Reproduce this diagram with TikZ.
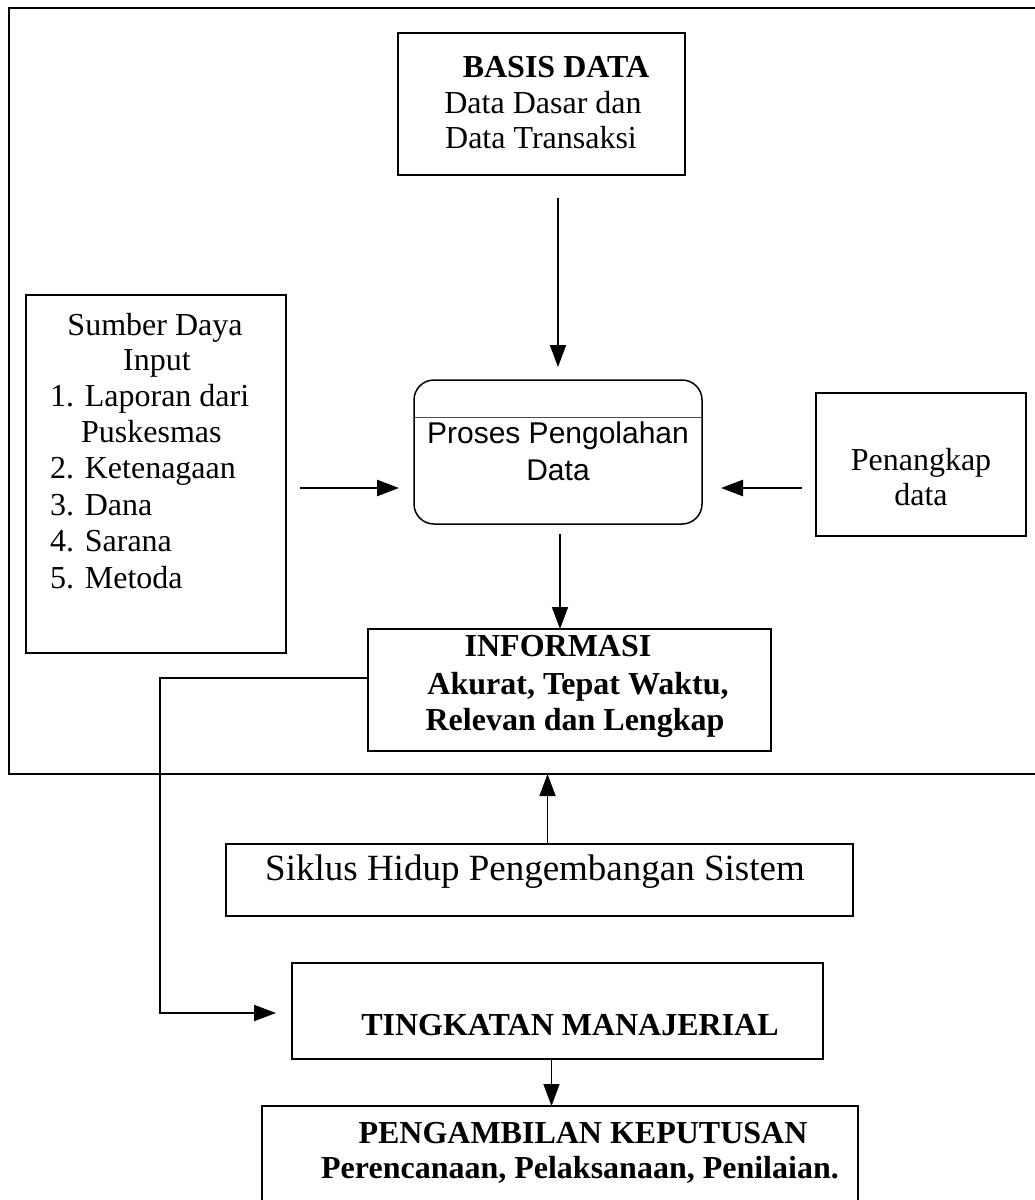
\documentclass[tikz,border=0pt]{standalone}
\usepackage{fontspec}
\setmainfont{Liberation Serif}
\newfontfamily\procfont{Liberation Sans}
\usetikzlibrary{arrows.meta}
\begin{document}
\begin{tikzpicture}[x=1pt,y=-1pt,
  box/.style={draw, line width=2pt, inner sep=0pt, outer sep=0pt},
  txt/.style={inner sep=0pt, anchor=base, font=\fontsize{32}{38}\selectfont},
  txtl/.style={txt, anchor=base west},
  bfx/.style={txt, font=\fontsize{32}{38}\selectfont\bfseries},
  proc/.style={txt, font=\fontsize{30}{36}\selectfont\procfont},
  arr/.style={line width=1.6pt, -{Triangle[length=22pt,width=16pt]}},
  thickarr/.style={arr, line width=2.6pt},
]
\useasboundingbox (0,0) rectangle (1035,1200);
\fill[white] (0,0) rectangle (1035,1200);

% outer frame of the information system
\node[box, minimum width=1036pt, minimum height=766pt] (frame) at (527,391) {};

% boxes
\node[box, minimum width=287pt, minimum height=142pt] (basis) at (541.5,104) {};
\node[box, minimum width=260pt, minimum height=358pt] (sumber) at (156,474) {};
\node[draw, line width=1.5pt, rounded corners=20pt, inner sep=0pt, outer sep=0pt,
      minimum width=288pt, minimum height=144pt] (proses) at (558,452) {};
\draw[line width=0.9pt, black!70] ([yshift=35pt]proses.west) -- ([yshift=35pt]proses.east);
\node[box, minimum width=210pt, minimum height=143pt] (penangkap) at (921,464.5) {};
\node[box, minimum width=403pt, minimum height=122pt] (informasi) at (569.5,690) {};
\node[box, minimum width=627pt, minimum height=72pt] (siklus) at (539.5,880) {};
\node[box, minimum width=531pt, minimum height=96pt] (tingkatan) at (557.5,1011) {};
\node[box, minimum width=596pt, minimum height=120pt] (pengambilan) at (560,1166) {};

% texts
\node[bfx] (basis-t1) at (556,77) {BASIS DATA};
\node[txt] (basis-t2) at (543,113) {Data Dasar dan};
\node[txt] (basis-t3) at (541,148) {Data Transaksi};

\node[txt] (sumber-t1) at (155,335) {Sumber Daya};
\node[txt] (sumber-t2) at (157,370) {Input};
\node[txtl] (sumber-t3) at (50,406) {1. Laporan dari};
\node[txtl] (sumber-t4) at (81,442) {Puskesmas};
\node[txtl] (sumber-t5) at (50,478) {2. Ketenagaan};
\node[txtl] (sumber-t6) at (50,515) {3. Dana};
\node[txtl] (sumber-t7) at (50,551) {4. Sarana};
\node[txtl] (sumber-t8) at (50,588) {5. Metoda};

\node[proc] (proses-t1) at (558,443) {Proses Pengolahan};
\node[proc] (proses-t2) at (558,480) {Data};

\node[txt] (penangkap-t1) at (921,470) {Penangkap};
\node[txt] (penangkap-t2) at (921,505) {data};

\node[bfx] (informasi-t1) at (558,656) {INFORMASI};
\node[bfx] (informasi-t2) at (578,694) {Akurat, Tepat Waktu,};
\node[bfx] (informasi-t3) at (575,730) {Relevan dan Lengkap};

\node[txt, font=\fontsize{37}{42}\selectfont] (siklus-t) at (535,880) {Siklus Hidup Pengembangan Sistem};

\node[bfx] (tingkatan-t) at (570,1035) {TINGKATAN MANAJERIAL};

\node[bfx] (pengambilan-t1) at (583,1143) {PENGAMBILAN KEPUTUSAN};
\node[bfx] (pengambilan-t2) at (580,1178) {Perencanaan, Pelaksanaan, Penilaian.};

% connector end points on the process box
\coordinate (pin-l) at ([yshift=-36pt]proses.west);
\coordinate (pin-r) at ([yshift=-36pt]proses.east);
\coordinate (pout) at ([xshift=2pt]proses.south);
\coordinate (sup) at ([xshift=8pt]siklus.north);
\coordinate (tout) at ([xshift=-6pt]tingkatan.south);
\coordinate (iout) at ([yshift=12pt]informasi.west);
\coordinate (tin) at ([yshift=-2pt]tingkatan.west);
\coordinate (bend) at (160,678);

% connectors
\draw[arr, shorten <=23pt, shorten >=13pt] (proses.north |- basis.south) -- (proses.north);
\draw[thickarr, shorten <=14pt, shorten >=15pt] (sumber.east |- pin-l) -- (pin-l);
\draw[thickarr, shorten <=14pt, shorten >=19pt] (penangkap.west |- pin-r) -- (pin-r);
\draw[arr, shorten <=10pt] (pout) -- (pout |- informasi.north);
\draw[arr] (sup) -- (sup |- frame.south);
\draw[arr, line width=2pt, shorten >=16pt] (iout) -- (bend) |- (tin);
\draw[arr] (tout) -- (tout |- pengambilan.north);
\end{tikzpicture}
\end{document}
